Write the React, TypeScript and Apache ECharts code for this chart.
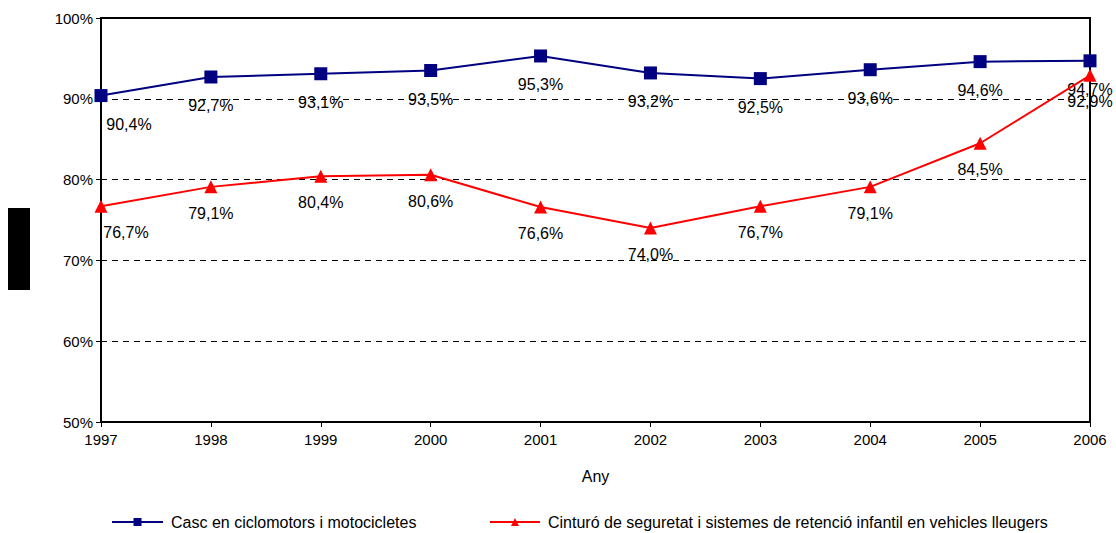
import React, { useEffect, useRef } from "react";
import * as echarts from "echarts";

const years = ["1997", "1998", "1999", "2000", "2001", "2002", "2003", "2004", "2005", "2006"];
const cascValues = [90.4, 92.7, 93.1, 93.5, 95.3, 93.2, 92.5, 93.6, 94.6, 94.7];
const cinturoValues = [76.7, 79.1, 80.4, 80.6, 76.6, 74.0, 76.7, 79.1, 84.5, 92.9];
const seriesNames = [
  "Casc en ciclomotors i motocicletes",
  "Cinturó de seguretat i sistemes de retenció infantil en vehicles lleugers",
];

const FONT = "Liberation Sans, Arial, sans-serif";

const fmt = (v: number) => v.toFixed(1).replace(".", ",") + "%";

function withFirstShift(values: number[], dx: number) {
  return values.map((v, i) =>
    i === 0 ? { value: v, label: { offset: [dx, 0] } } : { value: v }
  );
}

export default function App() {
  const ref = useRef<HTMLDivElement>(null);
  useEffect(() => {
    document.body.style.margin = "0";
    if (!ref.current) return;
    const chart = echarts.init(ref.current, null, { renderer: "svg" });
    const labelCommon = {
      show: true,
      position: "bottom" as const,
      distance: 14,
      color: "#000",
      fontFamily: FONT,
      fontSize: 16,
      formatter: (p: any) => fmt(p.value),
    };
    const legendText = { fontFamily: FONT, fontSize: 16, color: "#000", padding: [0, 0, 0, 3] };
    chart.setOption({
      animation: false,
      backgroundColor: "#fff",
      textStyle: { fontFamily: FONT },
      grid: { left: 101, right: 26, top: 18, bottom: 111, show: true, borderColor: "#000", borderWidth: 2, backgroundColor: "transparent" },
      legend: [
        {
          data: [seriesNames[0]],
          left: 111,
          top: 514,
          padding: 0,
          itemWidth: 51,
          itemHeight: 10,
          textStyle: legendText,
        },
        {
          data: [seriesNames[1]],
          left: 489,
          top: 514,
          padding: 0,
          itemWidth: 50,
          itemHeight: 10,
          textStyle: legendText,
        },
      ],
      xAxis: {
        type: "category",
        data: years,
        boundaryGap: false,
        name: "Any",
        nameLocation: "middle",
        nameGap: 46,
        nameTextStyle: { fontFamily: FONT, fontSize: 16, color: "#000" },
        axisLine: { lineStyle: { color: "#000", width: 2 } },
        axisTick: { show: true, length: 5, lineStyle: { color: "#000", width: 1 } },
        axisLabel: { color: "#000", fontFamily: FONT, fontSize: 15, margin: 10 },
        splitLine: { show: false },
      },
      yAxis: {
        type: "value",
        min: 50,
        max: 100,
        interval: 10,
        axisLine: { show: true, lineStyle: { color: "#000", width: 2 } },
        axisTick: { show: true, length: 5, lineStyle: { color: "#000", width: 1 } },
        axisLabel: { color: "#000", fontFamily: FONT, fontSize: 15, margin: 8, formatter: "{value}%" },
        splitLine: { show: true, lineStyle: { color: "#000", type: [6, 5], width: 1 } },
      },
      series: [
        {
          name: seriesNames[0],
          type: "line",
          data: withFirstShift(cascValues, 28),
          symbol: "rect",
          symbolSize: 13,
          color: "#000080",
          lineStyle: { color: "#000080", width: 2 },
          itemStyle: { color: "#000080" },
          label: { ...labelCommon },
          z: 3,
        },
        {
          name: seriesNames[1],
          type: "line",
          data: withFirstShift(cinturoValues, 25),
          symbol: "triangle",
          symbolSize: 13,
          color: "#FF0000",
          lineStyle: { color: "#FF0000", width: 2 },
          itemStyle: { color: "#FF0000" },
          label: { ...labelCommon, distance: 12 },
          z: 4,
        },
      ],
      graphic: [
        { type: "rect", left: 8, top: 208, shape: { width: 22, height: 82 }, style: { fill: "#000" } },
      ],
    });
    return () => chart.dispose();
  }, []);
  return <div ref={ref} style={{ width: 1116, height: 533 }} />;
}
